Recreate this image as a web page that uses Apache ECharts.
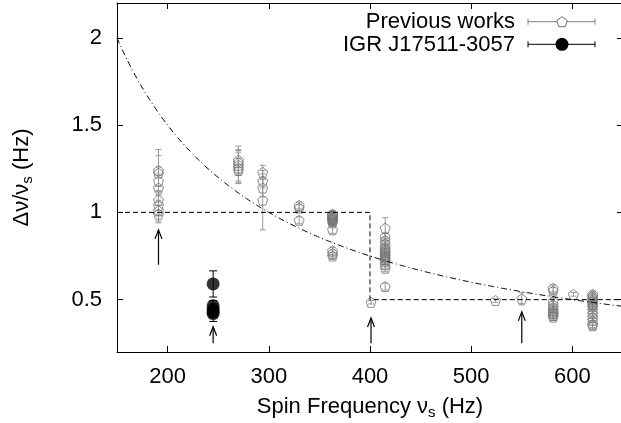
<!DOCTYPE html>
<html><head><meta charset="utf-8">
<script src="https://cdn.jsdelivr.net/npm/echarts@6/dist/echarts.min.js"></script>
<style>html,body{margin:0;padding:0;background:#fff}#c{width:621px;height:423px}</style>
</head><body><div id="c"></div>
<script>
// ---- data ----
const prevX = [191,191,191,191,191,191,191,191,
  270,270,270,270,270,
  294,294,294,294,
  330,330,330,
  363,363,363,363,363,363,363,363,363,363,363,363,363,363,
  401,
  415,415,415,415,415,415,415,415,415,415,415,415,415,415,415,415,
  524, 550,
  581,581,581,581,581,581,581,581,581,581,
  601,
  620,620,620,620,620,620,620,620,620,620,620,620,620,620];
const prevY = [1.24,1.225,1.18,1.14,1.07,1.04,1.01,0.99,
  1.30,1.285,1.27,1.255,1.24,
  1.23,1.18,1.14,1.07,
  1.04,1.025,0.955,
  0.99,0.985,0.98,0.975,0.97,0.965,0.96,0.955,0.95,0.94,0.90,0.78,0.765,0.75,
  0.485,
  0.91,0.86,0.84,0.82,0.80,0.79,0.78,0.77,0.76,0.75,0.74,0.73,0.72,0.70,0.68,0.575,
  0.495, 0.505,
  0.565,0.55,0.49,0.47,0.455,0.44,0.43,0.42,0.41,0.40,
  0.53,
  0.53,0.52,0.51,0.50,0.49,0.48,0.47,0.46,0.44,0.42,0.40,0.38,0.36,0.35];
const prevErr = [0.12,0.10,0.08,0.08,0.08,0.06,0.06,0.05,
  0.08,0.07,0.09,0.09,0.07,
  0.04,0.04,0.05,0.17,
  0.02,0.02,0.02,
  0.02,0.02,0.02,0.02,0.02,0.02,0.02,0.02,0.02,0.02,0.02,0.02,0.02,0.02,
  0.01,
  0.06,0.02,0.02,0.02,0.02,0.02,0.02,0.02,0.02,0.02,0.02,0.02,0.02,0.02,0.02,0.02,
  0.01, 0.035,
  0.02,0.02,0.02,0.02,0.02,0.02,0.02,0.02,0.02,0.02,
  0.01,
  0.02,0.02,0.02,0.02,0.02,0.02,0.02,0.02,0.02,0.02,0.02,0.02,0.02,0.02];

const igrX = [245,245,245,245,245];
const igrY = [0.59,0.465,0.445,0.43,0.42];
const igrErr = [0.075,0.03,0.03,0.03,0.045];

// step (dashed) line
const stepX = [150,400,400,650];
const stepY = [1,1,0.5,0.5];

// model curve dnu/nu = K/nu
const curveK = 300;
const curveXmin = 150, curveXmax = 650;

// arrows: x, tail y, head y
const arrowX = [191,245,401,550];
const arrowFrom = [0.70,0.25,0.25,0.25];
const arrowTo = [0.90,0.345,0.395,0.43];

const xTicks = [200,300,400,500,600];
const yTicks = [0.5,1,1.5,2];

const legendNames = ['Previous works','IGR J17511-3057'];

// ---- build ----
const FONT = 'Liberation Sans, Arial, sans-serif';
const curve = [];
for (let x = curveXmin; x <= curveXmax; x += 2) curve.push([x, curveK / x]);

const prevData = prevX.map((x,i)=>[x,prevY[i],prevErr[i]]);
const igrData = igrX.map((x,i)=>[x,igrY[i],igrErr[i]]);
const arrowData = arrowX.map((x,i)=>[x,arrowFrom[i],arrowTo[i]]);

function errRender(color, cap){
  return function(params, api){
    const x = api.value(0), y = api.value(1), e = api.value(2);
    const t = api.coord([x, y+e]), b = api.coord([x, y-e]);
    const st = {stroke: color, lineWidth: 1};
    return {type:'group', children:[
      {type:'line', shape:{x1:t[0],y1:t[1],x2:b[0],y2:b[1]}, style:st},
      {type:'line', shape:{x1:t[0]-cap,y1:t[1],x2:t[0]+cap,y2:t[1]}, style:st},
      {type:'line', shape:{x1:b[0]-cap,y1:b[1],x2:b[0]+cap,y2:b[1]}, style:st}
    ]};
  };
}
function arrowRender(params, api){
  const x = api.value(0);
  const a = api.coord([x, api.value(1)]), h = api.coord([x, api.value(2)]);
  const st = {stroke:'#000', lineWidth:1.2, fill:null};
  return {type:'group', children:[
    {type:'line', shape:{x1:a[0],y1:a[1],x2:h[0],y2:h[1]}, style:st},
    {type:'polyline', shape:{points:[[h[0]-3.5,h[1]+9],[h[0],h[1]],[h[0]+3.5,h[1]+9]]}, style:st}
  ]};
}

const pentagon = 'path://M0,-10 L9.51,-3.09 L5.88,8.09 L-5.88,8.09 L-9.51,-3.09 Z';
const pentPts = (cx, cy, r) => [0,1,2,3,4].map(k => {
  const a = -Math.PI/2 + k*2*Math.PI/5; return [cx + r*Math.cos(a), cy + r*Math.sin(a)];
});
const grey = '#808080';
const labelStyle = {fontFamily: FONT, fontSize: 22, color:'#000'};

const chart = echarts.init(document.getElementById('c'), null, {renderer:'canvas'});
chart.setOption({
  animation: false,
  backgroundColor: '#fff',
  grid: {left:117, top:3, width:506, height:349, containLabel:false, outerBoundsMode:'none'},
  xAxis: [{
    type:'value', min:150, max:650, splitNumber:5, position:'bottom',
    axisLine:{show:true, onZero:false, lineStyle:{color:'#000', width:1}},
    axisTick:{show:true, inside:true, length:6, lineStyle:{color:'#000'}},
    axisLabel:{...labelStyle, margin:14, showMinLabel:false, showMaxLabel:false,
      formatter: v => xTicks.includes(v) ? String(v) : ''},
    splitLine:{show:false},
    name:'{a|Spin Frequency ν}{s|s}{a| (Hz)}', nameLocation:'middle', nameGap:41,
    nameTextStyle:{rich:{a:{fontFamily:FONT,fontSize:22,color:'#000'},
                         s:{fontFamily:FONT,fontSize:15,color:'#000',padding:[12,0,0,0]}}}
  },{
    type:'value', min:150, max:650, splitNumber:5, position:'top',
    axisLine:{show:true, onZero:false, lineStyle:{color:'#000', width:1}},
    axisTick:{show:true, inside:true, length:6, lineStyle:{color:'#000'}},
    axisLabel:{show:false}, splitLine:{show:false}
  }],
  yAxis: [{
    type:'value', min:0.2, max:2.2, splitNumber:4, position:'left',
    axisLine:{show:true, onZero:false, lineStyle:{color:'#000', width:1}},
    axisTick:{show:true, inside:true, length:6, lineStyle:{color:'#000'}},
    axisLabel:{...labelStyle, margin:15, showMinLabel:false, showMaxLabel:false,
      formatter: v => yTicks.includes(v) ? String(v) : ''},
    splitLine:{show:false},
    name:'{a|Δν/ν}{s|s}{a| (Hz)}', nameLocation:'middle', nameGap:82, nameRotate:90,
    nameTextStyle:{rich:{a:{fontFamily:FONT,fontSize:22,color:'#000'},
                         s:{fontFamily:FONT,fontSize:15,color:'#000',padding:[12,0,0,0]}}}
  },{
    type:'value', min:0.2, max:2.2, splitNumber:4, position:'right',
    axisLine:{show:true, onZero:false, lineStyle:{color:'#000', width:1}},
    axisTick:{show:true, inside:true, length:6, lineStyle:{color:'#000'}},
    axisLabel:{show:false}, splitLine:{show:false}
  }],
  series: [
    {type:'line', data: curve, showSymbol:false, symbol:'none', silent:true,
     lineStyle:{color:'#000', width:1, type:[6,3,1,3]}},
    {type:'line', data: stepX.map((x,i)=>[x,stepY[i]]), showSymbol:false, symbol:'none', silent:true,
     lineStyle:{color:'#000', width:1, type:[5,3]}},
    {type:'custom', renderItem: arrowRender, data: arrowData, silent:true, encode:{x:0,y:[1,2]}},
    {type:'custom', renderItem: errRender('#9a9a9a', 3), data: prevData, silent:true, encode:{x:0,y:[1,2]}},
    {type:'scatter', name: legendNames[0], data: prevData, symbol: pentagon, symbolSize:[10,10],
     itemStyle:{color:'rgba(255,255,255,0)', borderColor:'#707070', borderWidth:1}},
    {type:'custom', renderItem: errRender('#000', 4), data: igrData, silent:true, encode:{x:0,y:[1,2]}},
    {type:'scatter', name: legendNames[1], data: igrData, symbol:'circle', symbolSize:13,
     itemStyle:{color:'#000'}}
  ],
  graphic: [
    {type:'text', x: 515, y: 11, style:{text:legendNames[0], font:'22px '+FONT, fill:'#000', align:'right'}},
    {type:'line', shape:{x1:528,y1:21.7,x2:595,y2:21.7}, style:{stroke:grey, lineWidth:1}},
    {type:'line', shape:{x1:528,y1:18.7,x2:528,y2:24.7}, style:{stroke:grey, lineWidth:1}},
    {type:'line', shape:{x1:595,y1:18.7,x2:595,y2:24.7}, style:{stroke:grey, lineWidth:1}},
    {type:'polygon', shape:{points: pentPts(562, 22.2, 5.5)}, style:{fill:'#fff', stroke:'#707070', lineWidth:1}},
    {type:'text', x: 515, y: 34, style:{text:legendNames[1], font:'22px '+FONT, fill:'#000', align:'right'}},
    {type:'line', shape:{x1:528,y1:44.3,x2:595,y2:44.3}, style:{stroke:'#000', lineWidth:1}},
    {type:'line', shape:{x1:528,y1:41.3,x2:528,y2:47.3}, style:{stroke:'#000', lineWidth:1}},
    {type:'line', shape:{x1:595,y1:41.3,x2:595,y2:47.3}, style:{stroke:'#000', lineWidth:1}},
    {type:'circle', shape:{cx:562, cy:44.3, r:6.5}, style:{fill:'#000'}}
  ]
});
</script></body></html>
